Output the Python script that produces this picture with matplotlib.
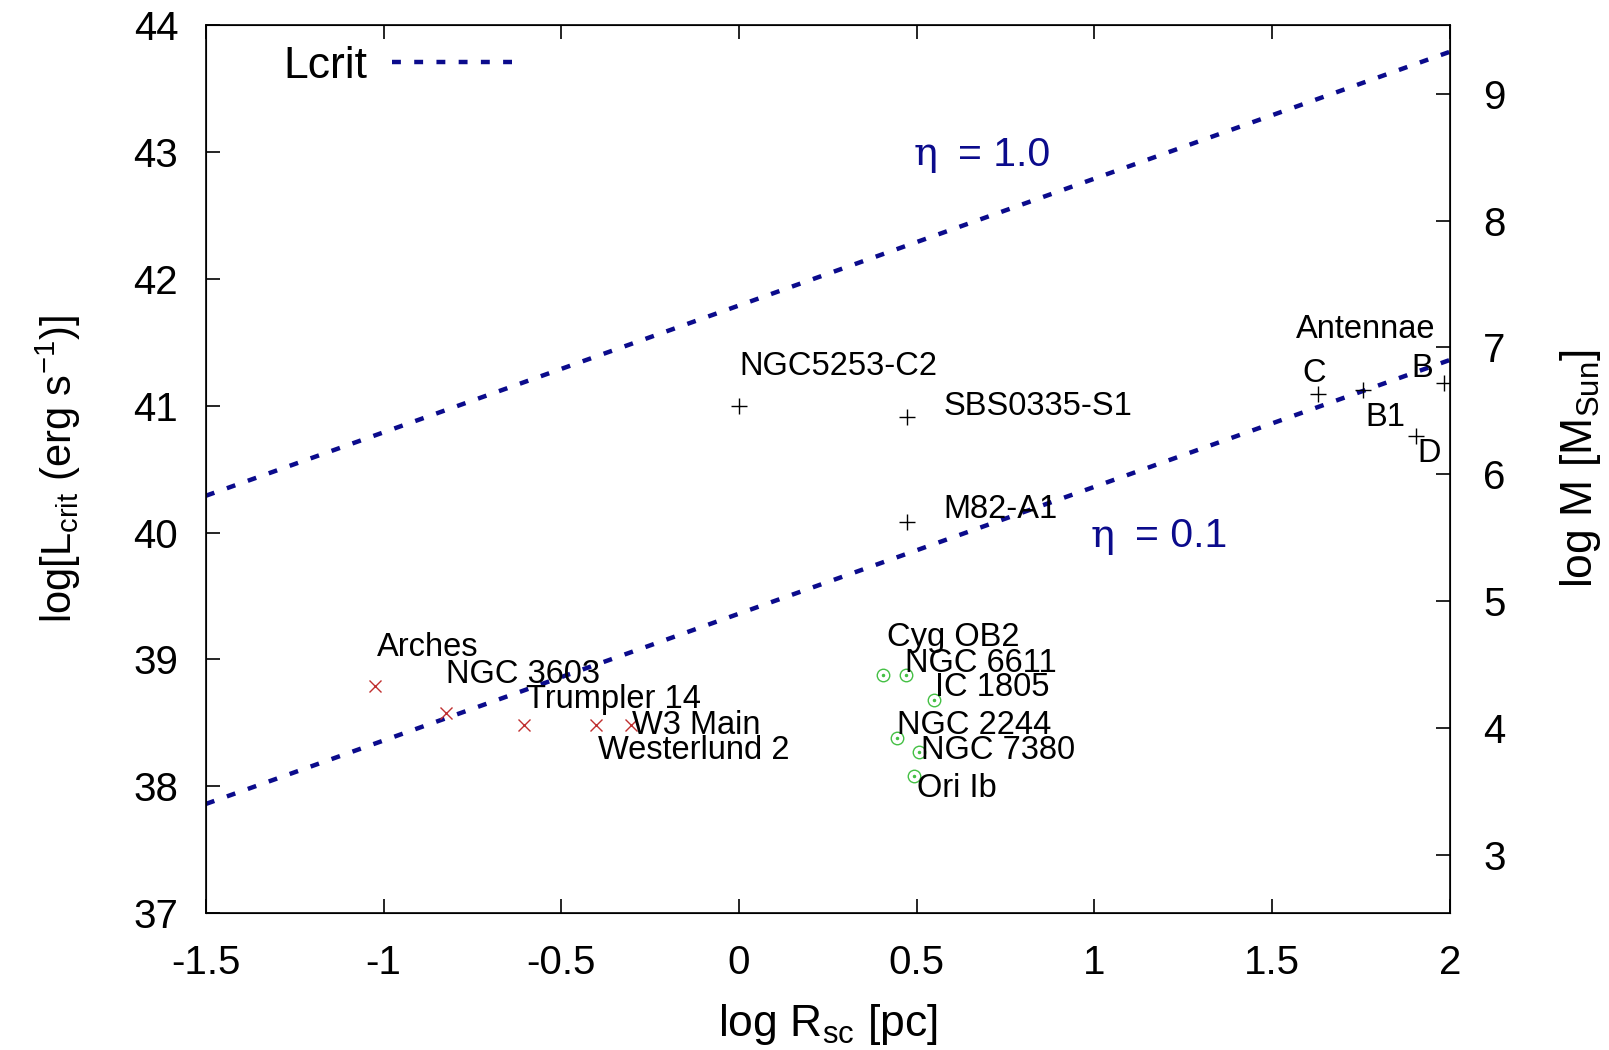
import numpy as np
import matplotlib
matplotlib.use('Agg')
from matplotlib import pyplot as plt

plt.rcParams['font.family'] = ['Liberation Sans', 'DejaVu Sans']
plt.rcParams['mathtext.fontset'] = 'custom'
plt.rcParams['mathtext.rm'] = 'Liberation Sans'
plt.rcParams['mathtext.it'] = 'Liberation Sans:italic'

# critical luminance lines, log L = a + log R
line_x = [-1.5, 2.0]
eta1_y = [40.29, 43.79]
eta01_y = [37.86, 41.36]

# super star clusters (black +)
ssc_names = ['NGC5253-C2', 'SBS0335-S1', 'M82-A1', 'C', 'B1', 'B', 'D']
ssc_x = [0.0, 0.474, 0.474, 1.63, 1.756, 1.985, 1.905]
ssc_y = [41.0, 40.91, 40.08, 41.09, 41.12, 41.18, 40.76]
ssc_lx = [0.0, 0.575, 0.575, 1.584, 1.763, 1.893, 1.908]
ssc_ly = [41.31, 40.99, 40.18, 41.25, 40.91, 41.29, 40.62]

# young massive clusters (red x)
ymc_names = ['Arches', 'NGC 3603', 'Trumpler 14', 'Westerlund 2', 'W3 Main']
ymc_x = [-1.023, -0.824, -0.604, -0.402, -0.303]
ymc_y = [38.79, 38.58, 38.48, 38.48, 38.48]
ymc_lx = [-1.020, -0.824, -0.598, -0.396, -0.300]
ymc_ly = [39.09, 38.88, 38.68, 38.28, 38.48]

# OB associations (green circles)
ob_names = ['Cyg OB2', 'NGC 6611', 'IC 1805', 'NGC 2244', 'NGC 7380', 'Ori Ib']
ob_x = [0.405, 0.47, 0.548, 0.445, 0.506, 0.492]
ob_y = [38.88, 38.88, 38.68, 38.38, 38.27, 38.08]
ob_lx = [0.416, 0.468, 0.552, 0.445, 0.512, 0.500]
ob_ly = [39.17, 38.97, 38.78, 38.48, 38.28, 37.98]

navy = '#0b0b8c'

fig = plt.figure(figsize=(16.09, 10.5), dpi=100)
ax = fig.add_axes([0.128, 0.1305, 0.773, 0.8455])

ax.plot(line_x, eta1_y, color=navy, lw=3.2, dashes=(2.0, 3.0), label='Lcrit')
ax.plot(line_x, eta01_y, color=navy, lw=3.2, dashes=(2.0, 3.0))

ax.plot(ssc_x, ssc_y, linestyle='none', marker='+', ms=11, mew=1.0, color='black')
ax.plot(ymc_x, ymc_y, linestyle='none', marker='x', ms=9, mew=1.0, color='#c03030')
ax.plot(ob_x, ob_y, linestyle='none', marker='o', ms=9, mew=1.0,
        mfc='none', mec='#44c044')
ax.plot(ob_x, ob_y, linestyle='none', marker='o', ms=1.5, color='#44c044')

lab_fs = 23.5
for n, x, y in zip(ssc_names, ssc_lx, ssc_ly):
    ax.text(x, y, n, fontsize=lab_fs, ha='left', va='center')
ax.text(1.566, 41.60, 'Antennae', fontsize=lab_fs, ha='left', va='center')
for n, x, y in zip(ymc_names, ymc_lx, ymc_ly):
    ax.text(x, y, n, fontsize=lab_fs, ha='left', va='center')
for n, x, y in zip(ob_names, ob_lx, ob_ly):
    ax.text(x, y, n, fontsize=lab_fs, ha='left', va='center')

# eta labels
for x, y, s in [(0.49, 42.98, '= 1.0'), (0.99, 39.97, '= 0.1')]:
    ax.text(x, y, 'η', fontsize=29, family=['DejaVu Serif'], color=navy,
            ha='left', va='center')
    ax.annotate(s, xy=(x, y), xytext=(32, 0), textcoords='offset points',
                fontsize=29.5, color=navy, ha='left', va='center')

ax.set_xlim(-1.5, 2)
ax.set_ylim(37, 44)
ax.set_xticks(np.arange(-1.5, 2.01, 0.5))
ax.set_xticklabels(['-1.5', '-1', '-0.5', '0', '0.5', '1', '1.5', '2'])
ax.set_yticks(range(37, 45))
ax.tick_params(axis='x', direction='in', length=10, width=1.2, pad=22,
               labelsize=29, top=True)
ax.tick_params(axis='y', direction='in', length=10, width=1.2, pad=20,
               labelsize=29, right=False)
for sp in ax.spines.values():
    sp.set_linewidth(1.2)

ax.set_xlabel(r'log R$_{\rm sc}$ [pc]', fontsize=32, labelpad=15)
ax.set_ylabel(r'log[L$_{\rm crit}$ (erg s$^{-1}$)]', fontsize=30, labelpad=36)

ax2 = ax.twinx()
ax2.set_ylim(37 - 34.46, 44 - 34.46)
ax2.set_yticks(range(3, 10))
ax2.tick_params(axis='y', direction='in', length=10, width=1.2, pad=24, labelsize=29)
ax2.set_ylabel(r'log M [M$_{\rm Sun}$]', fontsize=32, labelpad=38)

ax.legend(loc='upper left', bbox_to_anchor=(0.03, 1.022), frameon=False,
          markerfirst=False, fontsize=32, handlelength=2.9, handletextpad=0.55)

plt.savefig('out.png', dpi=100)
